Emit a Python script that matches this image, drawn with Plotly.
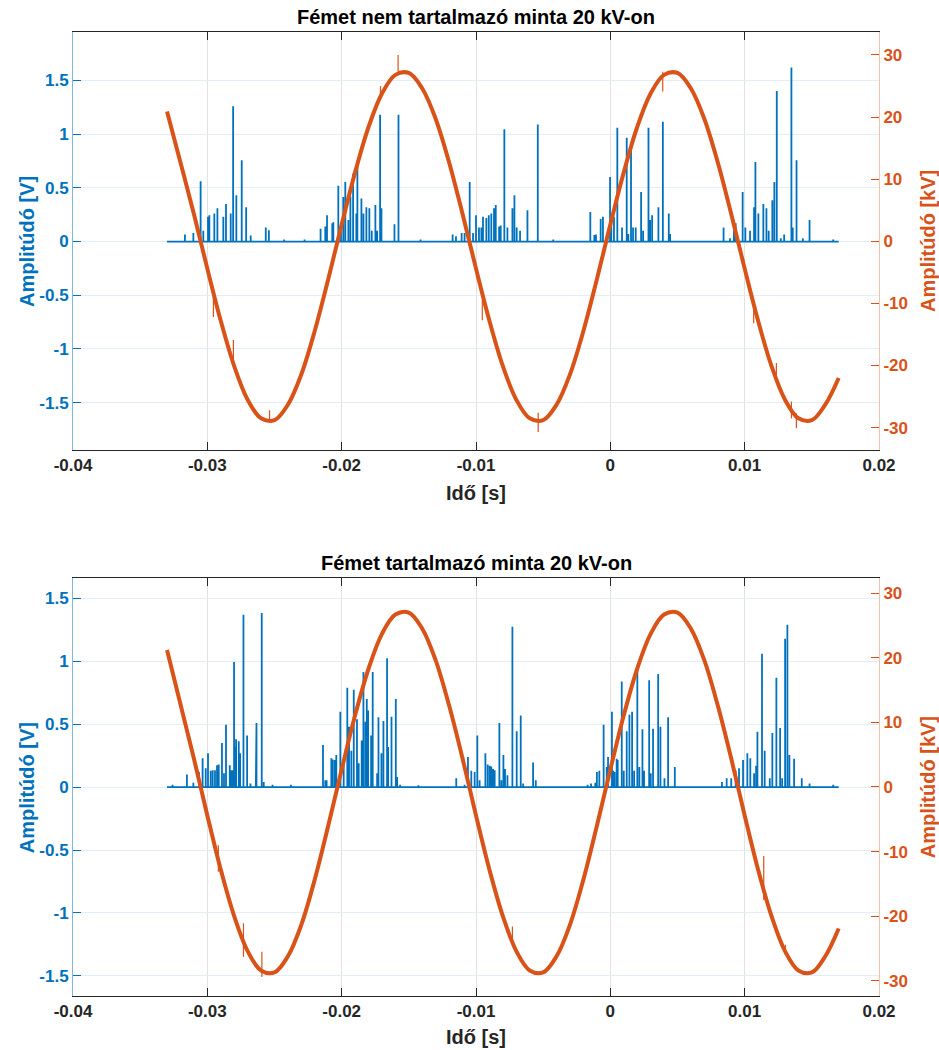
import plotly.graph_objects as go

BLUE = "#0072BD"
ORANGE = "#D95319"
DARK = "#262626"
FONT = "Liberation Sans"

title_top = "Fémet nem tartalmazó minta 20 kV-on"
title_bot = "Fémet tartalmazó minta 20 kV-on"
x_label = "Idő [s]"
yl_label = "Amplitúdó [V]"
yr_label = "Amplitúdó [kV]"

x_ticks = [-0.04, -0.03, -0.02, -0.01, 0, 0.01, 0.02]
x_ticktext = ["-0.04", "-0.03", "-0.02", "-0.01", "0", "0.01", "0.02"]
yl_ticks = [-1.5, -1, -0.5, 0, 0.5, 1, 1.5]
yl_ticktext = ["-1.5", "-1", "-0.5", "0", "0.5", "1", "1.5"]
yr_ticks = [-30, -20, -10, 0, 10, 20, 30]
yr_ticktext = ["-30", "-20", "-10", "0", "10", "20", "30"]

# record span (ms)
t_start_ms = -33.0
t_end_ms = 17.0

# voltage samples (every 1 ms from -33 to 17 ms), kV
volt_t_ms = list(range(-33, 18))
volt_top_kv = [20.9, 12.7, 4.4, -4.4, -12.8, -20.1, -25.5, -28.5, -28.8, -26.3,
               -21.4, -14.4, -6.1, 2.7, 11.1, 18.4, 23.8, 26.8, 27.1, 24.6,
               19.7, 12.7, 4.4, -4.4, -12.8, -20.1, -25.5, -28.5, -28.8, -26.3,
               -21.4, -14.4, -6.1, 2.7, 11.1, 18.4, 23.8, 26.8, 27.1, 24.6,
               19.7, 12.7, 4.4, -4.4, -12.8, -20.1, -25.5, -28.5, -28.8, -26.3,
               -22.0]
volt_bot_kv = [21.2, 12.8, 4.4, -4.4, -12.8, -20.0, -25.4, -28.4, -28.7, -26.2,
               -21.3, -14.3, -6.0, 2.7, 11.1, 18.3, 23.7, 26.7, 27.0, 24.5,
               19.6, 12.6, 4.4, -4.4, -12.8, -20.0, -25.4, -28.4, -28.7, -26.2,
               -21.3, -14.3, -6.0, 2.7, 11.1, 18.3, 23.7, 26.7, 27.0, 24.5,
               19.6, 12.6, 4.4, -4.4, -12.8, -20.0, -25.4, -28.4, -28.7, -26.2,
               -21.9]

# short glitches on the voltage trace: time (ms), low kV, high kV
glitch_top_t = [-29.55, -28.06, -25.37, -17.11, -15.80, 3.90, -9.53, -5.37, 10.67, 12.36, 13.48, 13.85]
glitch_top_lo = [-12.2, -19.1, -28.8, 22.7, 27.3, 24.1, -12.7, -30.7, -13.2, -21.8, -28.5, -30.1]
glitch_top_hi = [-8.1, -15.9, -27.2, 25.0, 30.0, 27.3, -9.5, -27.6, -10.5, -19.6, -25.8, -27.7]
glitch_bot_t = [-29.18, -27.31, -25.94, -7.29, 11.42, 13.03]
glitch_bot_lo = [-13.1, -26.3, -29.4, -23.7, -17.5, -26.0]
glitch_bot_hi = [-9.0, -21.1, -25.5, -21.6, -10.7, -24.4]

# partial-discharge pulses: time (ms), amplitude (V)
pd_top_t = [-31.67, -31.04, -30.50, -30.30, -29.95, -29.85, -29.48, -29.25, -28.81, -28.61,
            -28.26, -28.08, -27.84, -27.44, -27.11, -26.77, -25.65, -25.42, -24.28, -22.76,
            -21.57, -21.22, -21.09, -20.70, -20.62, -20.25, -20.05, -19.88, -19.73, -19.50,
            -19.35, -19.15, -18.91, -18.83, -18.53, -18.38, -18.16, -17.94, -17.76, -17.49,
            -17.36, -17.14, -17.04, -16.07, -15.77, -14.13, -11.74, -11.49, -11.07, -10.85,
            -10.47, -10.22, -10.00, -9.78, -9.60, -9.48, -9.23, -9.05, -8.86, -8.66,
            -8.53, -8.28, -8.16, -7.89, -7.66, -7.29, -7.14, -6.97, -6.72, -6.17,
            -5.40, -4.25, -1.49, -1.19, -1.07, -0.72, -0.55, -0.02, 0.07, 0.27,
            0.52, 0.87, 1.22, 1.34, 1.54, 1.69, 1.89, 2.29, 2.44, 2.84,
            2.96, 3.11, 3.58, 3.91, 4.35, 4.45, 8.43, 8.91, 9.20, 9.33,
            9.85, 10.05, 10.40, 10.70, 10.80, 11.02, 11.39, 11.62, 11.79, 12.06,
            12.21, 12.39, 12.69, 12.94, 13.48, 13.58, 13.86, 14.33, 14.83, 16.59]
pd_top_v = [0.065, 0.08, 0.56, 0.10, 0.23, 0.245, 0.26, 0.31, 0.23, 0.35,
            0.26, 1.26, 0.43, 0.757, 0.32, 0.056, 0.13, 0.105, 0.02, 0.02,
            0.12, 0.14, 0.245, 0.17, 0.18, 0.52, 0.17, 0.415, 0.555, 0.20,
            0.42, 0.63, 0.26, 0.725, 0.40, 0.26, 0.32, 0.31, 0.10, 0.34,
            0.10, 1.18, 0.31, 0.16, 1.18, 0.02, 0.065, 0.05, 0.08, 0.08,
            0.555, 0.08, 0.245, 0.13, 0.13, 0.23, 0.22, 0.245, 0.26, 0.31,
            0.34, 0.14, 0.15, 1.045, 0.13, 0.31, 0.43, 0.13, 0.10, 0.29,
            1.09, 0.02, 0.275, 0.06, 0.065, 0.21, 0.23, 0.60, 0.18, 0.23,
            1.06, 0.13, 0.965, 0.07, 0.85, 0.13, 0.13, 0.46, 0.10, 1.06,
            0.20, 0.245, 0.32, 1.115, 0.26, 0.07, 0.13, 0.03, 0.18, 0.17,
            0.46, 0.13, 0.10, 0.32, 0.74, 0.26, 0.35, 0.31, 0.10, 0.385,
            0.555, 1.40, 0.03, 0.065, 1.62, 0.13, 0.757, 0.03, 0.20, 0.02]

pd_bot_t = [-32.59, -31.52, -31.04, -30.62, -30.35, -30.12, -29.95, -29.75, -29.60, -29.43,
            -29.28, -29.15, -28.91, -28.76, -28.61, -28.33, -28.26, -28.13, -28.01, -27.94,
            -27.86, -27.66, -27.56, -27.31, -27.04, -26.79, -26.39, -26.34, -25.95, -25.80,
            -25.15, -23.78, -21.39, -21.22, -21.12, -20.77, -20.67, -20.52, -20.40, -20.10,
            -19.85, -19.58, -19.45, -19.28, -19.10, -18.86, -18.73, -18.51, -18.38, -18.23,
            -18.13, -18.03, -17.81, -17.69, -17.36, -17.26, -17.04, -16.89, -16.62, -16.54,
            -16.29, -15.97, -15.87, -15.65, -14.28, -11.47, -10.85, -10.60, -10.35, -10.10,
            -9.90, -9.73, -9.30, -9.13, -8.98, -8.86, -8.73, -8.61, -8.26, -8.11,
            -7.96, -7.84, -7.66, -7.29, -6.97, -6.67, -6.49, -5.75, -5.55, -1.69,
            -1.44, -1.12, -1.00, -0.82, -0.50, -0.27, -0.17, 0.12, 0.22, 0.32,
            0.47, 0.55, 0.85, 1.00, 1.22, 1.42, 1.62, 1.77, 2.01, 2.16,
            2.39, 2.51, 2.89, 3.01, 3.18, 3.56, 3.73, 4.03, 4.30, 4.80,
            8.31, 8.66, 9.00, 9.33, 9.58, 9.88, 10.20, 10.42, 10.70, 10.85,
            10.95, 11.29, 11.49, 11.87, 12.06, 12.36, 12.64, 12.79, 13.01, 13.18,
            13.33, 13.68, 14.25, 14.83, 16.59]
pd_bot_v = [0.02, 0.10, 0.035, 0.12, 0.23, 0.15, 0.27, 0.13, 0.135, 0.135,
            0.175, 0.18, 0.35, 0.11, 0.495, 0.175, 0.135, 0.135, 0.995, 0.32,
            0.38, 0.365, 0.27, 1.37, 0.41, 0.03, 0.07, 0.51, 1.385, 0.04,
            0.02, 0.02, 0.335, 0.055, 0.055, 0.23, 0.22, 0.215, 0.255, 0.60,
            0.215, 0.79, 0.48, 0.29, 0.775, 0.54, 0.19, 0.37, 0.915, 0.52,
            0.70, 0.61, 0.41, 0.915, 0.11, 0.555, 0.27, 0.525, 1.025, 0.32,
            0.56, 0.70, 0.08, 0.02, 0.015, 0.07, 0.02, 0.24, 0.13, 0.12,
            0.41, 0.055, 0.27, 0.18, 0.17, 0.165, 0.145, 0.135, 0.51, 0.055,
            0.255, 0.145, 0.095, 1.275, 0.445, 0.57, 0.03, 0.195, 0.055, 0.02,
            0.03, 0.035, 0.12, 0.13, 0.495, 0.16, 0.24, 0.60, 0.13, 0.12,
            0.225, 0.215, 0.84, 0.13, 0.445, 0.575, 0.60, 0.13, 0.96, 0.16,
            0.46, 0.13, 0.85, 0.11, 0.465, 0.90, 0.48, 0.07, 0.555, 0.16,
            0.04, 0.07, 0.07, 0.13, 0.15, 0.215, 0.27, 0.23, 0.11, 0.17,
            0.44, 1.06, 0.29, 0.07, 0.43, 0.87, 0.47, 0.07, 1.18, 1.29,
            0.255, 0.225, 0.07, 0.03, 0.02]


def pulse_xy(times_ms, amps):
    pairs = sorted(zip(times_ms, amps))
    xs, ys = [t_start_ms / 1000], [0]
    for t, a in pairs:
        xs += [t / 1000, t / 1000, t / 1000]
        ys += [0, a, 0]
    xs.append(t_end_ms / 1000)
    ys.append(0)
    return xs, ys


def glitch_xy(times_ms, lo, hi):
    xs, ys = [], []
    for t, a, b in zip(times_ms, lo, hi):
        xs += [t / 1000, t / 1000, None]
        ys += [a, b, None]
    return xs, ys


fig = go.Figure()

for (pt, pv, vk, gt, gl, gh, xa, ya, yb) in [
    (pd_top_t, pd_top_v, volt_top_kv, glitch_top_t, glitch_top_lo, glitch_top_hi, "x", "y", "y2"),
    (pd_bot_t, pd_bot_v, volt_bot_kv, glitch_bot_t, glitch_bot_lo, glitch_bot_hi, "x2", "y3", "y4"),
]:
    px_, py_ = pulse_xy(pt, pv)
    fig.add_trace(go.Scatter(x=px_, y=py_, mode="lines", xaxis=xa, yaxis=ya,
                             line=dict(color=BLUE, width=1.8), showlegend=False,
                             hoverinfo="skip"))
    fig.add_trace(go.Scatter(x=[t / 1000 for t in volt_t_ms], y=vk, mode="lines",
                             xaxis=xa, yaxis=yb,
                             line=dict(color=ORANGE, width=4, shape="spline", smoothing=1.0),
                             showlegend=False, hoverinfo="skip"))
    gx, gy = glitch_xy(gt, gl, gh)
    fig.add_trace(go.Scatter(x=gx, y=gy, mode="lines", xaxis=xa, yaxis=yb,
                             line=dict(color=ORANGE, width=1.2), showlegend=False,
                             hoverinfo="skip", connectgaps=False))

TICK_SIZE = 17
LABEL_SIZE = 20
TITLE_SIZE = 20

tickfont_x = dict(family=FONT, size=TICK_SIZE, color=DARK, weight="bold")
tickfont_l = dict(family=FONT, size=TICK_SIZE, color=BLUE, weight="bold")
tickfont_r = dict(family=FONT, size=TICK_SIZE, color=ORANGE, weight="bold")

xcommon = dict(range=[-0.04, 0.02], tickvals=x_ticks, ticktext=x_ticktext,
               ticks="inside", ticklen=8, tickwidth=1, tickcolor=DARK,
               showline=True, linecolor=DARK, linewidth=1, mirror="ticks",
               showgrid=True, gridcolor="#e2e2e2", gridwidth=1, zeroline=False,
               tickfont=tickfont_x, domain=[0, 1])
ylcommon = dict(tickvals=yl_ticks, ticktext=yl_ticktext, ticks="inside", ticklen=8,
                tickwidth=1, tickcolor=BLUE, showline=True, linecolor="#80b6de",
                linewidth=1, showgrid=True, gridcolor="#e4edf6", gridwidth=1,
                zeroline=False, tickfont=tickfont_l, side="left")
yrcommon = dict(tickvals=yr_ticks, ticktext=yr_ticktext, ticks="inside", ticklen=8,
                tickwidth=1, tickcolor=ORANGE, showline=True, linecolor="#efc2ad",
                linewidth=1, showgrid=False, zeroline=False, tickfont=tickfont_r,
                side="right")

top_dom = [0.5664, 1.0]
bot_dom = [0.0, 0.4333]

fig.update_layout(
    width=939, height=1050,
    margin=dict(l=73, r=60, t=32, b=54),
    paper_bgcolor="white", plot_bgcolor="white",
    showlegend=False,
    xaxis=dict(anchor="y", **xcommon),
    xaxis2=dict(anchor="y3", **xcommon),
    yaxis=dict(domain=top_dom, range=[-1.94, 1.95], anchor="x", **ylcommon),
    yaxis2=dict(range=[-33.6, 33.7], overlaying="y", anchor="x", **yrcommon),
    yaxis3=dict(domain=bot_dom, range=[-1.66, 1.66], anchor="x2", **ylcommon),
    yaxis4=dict(range=[-32.35, 32.3], overlaying="y3", anchor="x2", **yrcommon),
)

ann = []
for title, ty, xy, yc in [(title_top, 1.0156, 0.5218, 0.7832), (title_bot, 0.4492, -0.0425, 0.2166)]:
    ann.append(dict(text=title, x=0.5, y=ty, xref="paper", yref="paper", showarrow=False,
                    xanchor="center", yanchor="middle",
                    font=dict(family=FONT, size=TITLE_SIZE, color="black", weight="bold")))
    ann.append(dict(text=x_label, x=0.5, y=xy, xref="paper", yref="paper", showarrow=False,
                    xanchor="center", yanchor="middle",
                    font=dict(family=FONT, size=LABEL_SIZE, color=DARK, weight="bold")))
    ann.append(dict(text=yl_label, x=-0.0571, y=yc, xref="paper", yref="paper", showarrow=False,
                    xanchor="center", yanchor="middle", textangle=-90,
                    font=dict(family=FONT, size=LABEL_SIZE, color=BLUE, weight="bold")))
    ann.append(dict(text=yr_label, x=1.0608, y=yc, xref="paper", yref="paper", showarrow=False,
                    xanchor="center", yanchor="middle", textangle=-90,
                    font=dict(family=FONT, size=LABEL_SIZE, color=ORANGE, weight="bold")))
fig.update_layout(annotations=ann)

fig.write_html("out.html")
